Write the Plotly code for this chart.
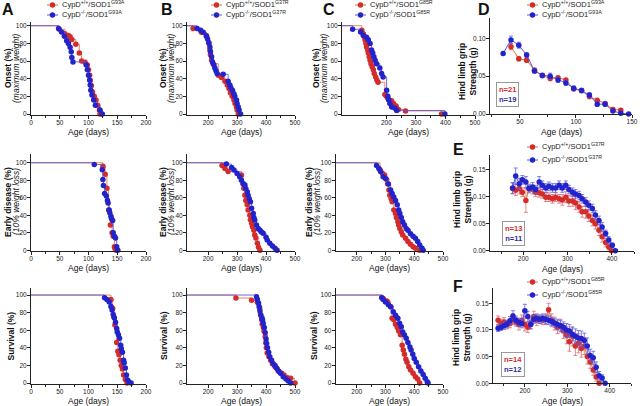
import plotly.graph_objects as go

W, H = 640, 406
RED = "#d42b2b"; BLUE = "#2323cc"
RED_LINE = "#e8703a"; BLUE_LINE = "#5555dd"
RED_ERR = "#e06a6a"; BLUE_ERR = "#5f5fe0"
FONT = "Arial, Liberation Sans, sans-serif"

# ---------------- DATA ----------------
# A: SOD1 G93A (Kaplan-Meier, age in days / percent)
a1_red_age = [0, 49, 59, 65, 68, 71, 78, 84, 88, 94, 98, 100, 102, 103, 105, 107, 110, 113, 116, 119, 120]
a1_red_pct = [100, 96, 91, 89, 87.5, 84.5, 79, 69, 60, 58.5, 55.5, 50, 44, 38, 32, 25, 20, 16, 10, 4.5, 0]
a1_blue_age = [0, 48, 53, 58, 62, 65, 68, 70, 71, 73, 96, 98, 100, 102, 103, 104, 106, 109, 112, 120, 124]
a1_blue_pct = [100, 97, 93, 88, 83, 80, 75.5, 70.5, 64, 59, 55.5, 50, 44, 38.5, 33, 27, 21.5, 16, 10, 4.5, 0]

a2_red_age = [0, 125, 129, 132, 135, 138, 141, 143, 145, 146, 148]
a2_red_pct = [100, 96, 87, 71, 46, 29, 20, 16, 4, 2, 0]
a2_blue_age = [0, 110, 124, 125, 126, 128, 131, 133, 134, 136, 137, 139, 140, 142, 143, 145, 147, 149, 151]
a2_blue_pct = [100, 98, 92, 81, 74, 65, 62, 57, 54, 46, 43, 39, 36, 34, 20, 16, 14, 4, 0]

a3_red_age = [0, 139, 142, 144, 146, 149, 151, 153, 155, 157, 159, 161, 164, 167]
a3_red_pct = [100, 95, 85, 75, 66, 46, 36, 32, 26, 20, 16, 9, 4, 0]
a3_blue_age = [0, 128, 132, 136, 139, 141, 143, 145, 147, 149, 150, 152, 154, 156, 157, 159, 161, 162, 164, 166, 168, 170, 174]
a3_blue_pct = [100, 97, 95, 92, 87, 83, 78, 74, 69, 62, 58, 55, 51, 43, 39, 35, 26, 23, 17, 9, 3.5, 1.5, 0]

# B: SOD1 G37R
b1_red_age = [127, 148, 177, 194, 203, 206, 208, 212, 217, 235, 246, 258, 266, 272, 277, 283, 289, 293, 298, 300, 304]
b1_red_pct = [100, 97, 92.5, 89, 80, 72.5, 67, 61, 57, 44, 41.5, 37, 33, 29, 24, 20, 16, 12, 8, 4.5, 0]
b1_blue_age = [127, 162, 174, 183, 194, 198, 202, 206, 208, 212, 215, 220, 223, 227, 231, 252, 269, 275, 278, 284, 289, 292, 298, 300, 304, 307, 312]
b1_blue_pct = [100, 97, 95, 92.5, 88, 85, 81, 76, 70.6, 65, 59, 55.5, 52, 49, 46, 45, 37, 33, 30, 27, 23, 20, 16, 12, 8, 4.5, 0]

b2_red_age = [127, 248, 258, 269, 315, 321, 323, 327, 330, 335, 338, 344, 346, 350, 353, 358, 361, 365, 370, 374, 379]
b2_red_pct = [100, 97, 93.5, 90, 86, 76, 71, 63, 57, 52, 46, 40, 35, 31, 27, 23, 17.5, 14, 8, 3.4, 0]
b2_blue_age = [127, 263, 281, 289, 300, 309, 315, 321, 327, 330, 335, 338, 342, 346, 350, 356, 358, 361, 367, 373, 379, 384, 390, 400, 404, 413, 422, 431, 438]
b2_blue_pct = [100, 98.5, 94.7, 91.6, 87.8, 84, 80, 76, 74.5, 70.7, 67, 63, 59, 55.5, 48, 42, 37.6, 34.6, 29, 25, 23, 21, 19.4, 15, 11.8, 8, 5, 2.3, 0]

b3_red_age = [127, 296, 350, 370, 378, 381, 385, 387, 391, 393, 397, 399, 401, 404, 410, 416, 422, 431, 439, 445, 454, 462, 474, 485, 500]
b3_red_pct = [100, 96.6, 94, 91.7, 85, 78, 72, 66.7, 63, 59, 53, 45.8, 40, 34, 30, 26, 22, 18.6, 16, 13, 11, 9, 6, 5.3, 0]
b3_blue_age = [127, 367, 370, 374, 376, 379, 382, 386, 388, 390, 394, 397, 400, 402, 405, 409, 413, 419, 425, 431, 436, 442, 450, 459, 469, 477, 485]
b3_blue_pct = [100, 98, 95, 91, 87, 82, 77, 74, 71.6, 68, 63, 57, 50, 45, 40, 35, 30, 26, 22, 20, 17, 14, 11, 7, 4.5, 2.3, 0]

# C: SOD1 G85R
c1_red_age = [50, 117, 122, 126, 128, 131, 133, 137, 139, 142, 145, 148, 152, 156, 159, 164, 168, 172, 195, 200, 205, 218, 224, 233, 241, 265, 387]
c1_red_pct = [100, 95, 91, 87.5, 84, 80, 76, 72.5, 69, 65, 61, 57, 53.6, 50, 46, 42, 38.5, 36, 22, 20, 18, 15, 12, 9, 5, 3.5, 0]
c1_blue_age = [50, 86, 113, 122, 133, 139, 145, 150, 154, 158, 162, 167, 178, 184, 189, 201, 205, 208, 212, 218, 229, 235, 398]
c1_blue_pct = [100, 96, 93, 89, 87, 84, 80, 72.5, 69, 65, 61, 57, 52, 46, 42, 27, 20, 16, 12, 8, 6.5, 4, 0]

c2_red_age = [127, 281, 289, 297, 304, 308, 312, 315, 320, 323, 329, 335, 338, 343, 346, 350, 355, 360, 370, 378, 387, 396, 404, 419]
c2_red_pct = [100, 92, 88, 86, 81, 76, 69, 63, 59, 55.5, 46, 42, 37.6, 32.7, 29, 25, 21, 17.5, 13.7, 10, 7, 4, 2.3, 0]
c2_blue_age = [127, 269, 277, 283, 292, 300, 310, 318, 323, 329, 335, 341, 346, 350, 355, 360, 366, 372, 378, 387, 396, 404, 412, 419, 427, 431]
c2_blue_pct = [100, 97, 93.5, 90, 84, 82, 75.7, 69, 65, 61, 57, 52, 46, 42, 37.6, 32.7, 29, 25, 23, 19, 16, 13.7, 10, 6, 2.3, 0]

c3_red_age = [127, 292, 306, 318, 323, 329, 335, 341, 346, 352, 358, 362, 366, 371, 375, 381, 387, 396, 404, 412, 419]
c3_red_pct = [100, 96, 93, 86.7, 73.5, 72, 66.7, 63, 59, 55, 43, 37.5, 32.6, 27, 23.5, 18.6, 14.8, 11, 7, 4.5, 0]
c3_blue_age = [127, 287, 292, 300, 310, 318, 327, 335, 343, 349, 355, 360, 366, 372, 378, 385, 389, 395, 400, 407, 415, 423, 431, 438, 445, 448]
c3_blue_pct = [100, 97, 95, 92, 89, 86.7, 81, 77, 73.5, 68, 64, 58, 54.5, 51, 46, 41, 37.5, 32.6, 28, 23.5, 18.6, 13.6, 9.8, 5.3, 1.5, 0]

# D: hind limb grip strength, G93A
d_blue_age = [35, 42, 49, 56, 63, 70, 77, 84, 91, 98, 105, 112, 119, 126, 133, 140, 147]
d_blue = [0.080, 0.098, 0.091, 0.078, 0.057, 0.051, 0.050, 0.045, 0.041, 0.034, 0.031, 0.025, 0.013, 0.013, 0.004, 0.001, 0.000]
d_blue_err = [0.002, 0.005, 0.004, 0.003, 0.003, 0.003, 0.004, 0.003, 0.003, 0.003, 0.003, 0.003, 0.003, 0.003, 0.002, 0.002, 0.001]
d_red_age = [42, 49, 56, 63, 70, 77, 84, 91, 98, 105, 112, 119, 126, 133, 140]
d_red = [0.089, 0.073, 0.071, 0.058, 0.051, 0.047, 0.048, 0.045, 0.033, 0.031, 0.023, 0.018, 0.014, 0.006, 0.005]
d_red_err = [0.004, 0.003, 0.003, 0.003, 0.002, 0.003, 0.002, 0.002, 0.002, 0.002, 0.003, 0.003, 0.002, 0.002, 0.002]

# E: grip strength, G37R
e_blue_age = [176, 183, 191, 198, 206, 213, 221, 228, 236, 243, 251, 258, 266, 273, 281, 288, 296, 303, 311, 318, 326, 333, 341, 348, 356, 363, 371, 378, 386, 393, 401, 408]
e_blue = [0.116, 0.138, 0.124, 0.131, 0.127, 0.115, 0.118, 0.113, 0.127, 0.121, 0.116, 0.119, 0.116, 0.116, 0.121, 0.116, 0.121, 0.113, 0.108, 0.105, 0.102, 0.096, 0.090, 0.084, 0.078, 0.066, 0.056, 0.044, 0.032, 0.020, 0.010, 0.000]
e_blue_err = [0.010, 0.015, 0.010, 0.008, 0.010, 0.008, 0.008, 0.008, 0.010, 0.008, 0.008, 0.008, 0.008, 0.008, 0.008, 0.008, 0.008, 0.008, 0.008, 0.008, 0.008, 0.008, 0.008, 0.008, 0.008, 0.008, 0.008, 0.008, 0.006, 0.006, 0.004, 0.002]
e_red_age = [176, 183, 191, 198, 206, 213, 221, 228, 236, 243, 251, 258, 266, 273, 281, 288, 296, 303, 311, 318, 326, 333, 341, 348, 356, 363, 371, 378, 386, 393, 399]
e_red = [0.115, 0.112, 0.115, 0.108, 0.093, 0.115, 0.113, 0.108, 0.107, 0.105, 0.099, 0.099, 0.096, 0.099, 0.096, 0.094, 0.099, 0.092, 0.092, 0.088, 0.081, 0.072, 0.072, 0.064, 0.056, 0.050, 0.038, 0.026, 0.015, 0.007, 0.000]
e_red_err = [0.010, 0.010, 0.010, 0.008, 0.022, 0.006, 0.008, 0.008, 0.008, 0.008, 0.008, 0.008, 0.008, 0.008, 0.008, 0.010, 0.010, 0.010, 0.010, 0.012, 0.010, 0.010, 0.012, 0.010, 0.010, 0.010, 0.010, 0.010, 0.008, 0.006, 0.003]

# F: grip strength, G85R
f_blue_age = [137, 144, 151, 158, 165, 172, 179, 186, 193, 200, 207, 214, 221, 228, 235, 242, 249, 256, 263, 270, 277, 284, 291, 298, 305, 312, 319, 326, 333, 340, 347, 354, 361, 368, 375, 382, 389]
f_blue = [0.103, 0.105, 0.108, 0.111, 0.117, 0.126, 0.118, 0.114, 0.112, 0.136, 0.125, 0.110, 0.120, 0.122, 0.120, 0.122, 0.120, 0.118, 0.116, 0.113, 0.110, 0.108, 0.105, 0.100, 0.098, 0.092, 0.088, 0.085, 0.084, 0.080, 0.070, 0.052, 0.048, 0.030, 0.014, 0.010, 0.000]
f_blue_err = [0.006, 0.006, 0.007, 0.007, 0.008, 0.010, 0.008, 0.008, 0.008, 0.012, 0.010, 0.008, 0.008, 0.008, 0.008, 0.008, 0.008, 0.008, 0.008, 0.008, 0.010, 0.010, 0.010, 0.012, 0.012, 0.012, 0.014, 0.014, 0.014, 0.014, 0.015, 0.012, 0.012, 0.010, 0.008, 0.006, 0.002]
f_red_age = [137, 144, 151, 158, 165, 172, 179, 186, 193, 200, 207, 214, 221, 228, 235, 242, 249, 256, 263, 270, 277, 284, 291, 298, 305, 312, 319, 326, 333, 340, 347, 354, 361, 368, 375]
f_red = [0.118, 0.112, 0.115, 0.110, 0.112, 0.120, 0.115, 0.110, 0.118, 0.110, 0.105, 0.112, 0.125, 0.118, 0.120, 0.118, 0.120, 0.138, 0.118, 0.112, 0.105, 0.108, 0.098, 0.090, 0.078, 0.088, 0.070, 0.075, 0.065, 0.070, 0.050, 0.040, 0.025, 0.012, 0.000]
f_red_err = [0.008, 0.008, 0.008, 0.008, 0.008, 0.010, 0.008, 0.010, 0.010, 0.012, 0.010, 0.010, 0.010, 0.010, 0.008, 0.008, 0.010, 0.012, 0.012, 0.012, 0.012, 0.012, 0.014, 0.016, 0.018, 0.018, 0.018, 0.018, 0.016, 0.016, 0.014, 0.012, 0.010, 0.008, 0.002]

genotypes = ["G93A", "G37R", "G85R"]
n_labels = [("n=21", "n=19"), ("n=13", "n=11"), ("n=14", "n=12")]
km_bold = ["Onset (%)", "Early disease (%)", "Survival (%)"]
km_italic = ["(maximum weight)", "(10% weight loss)", None]
grip_title = "<b>Hind limb grip<br>Strength (g)</b>"
x_title = "Age (days)"
panel_letters = ["A", "B", "C", "D", "E", "F"]

# ---------------- LAYOUT GEOMETRY (pixels) ----------------
geom = {
    "A1": (31, 146, 22.2, 114.9, [0, 200], [-1, 104]),
    "B1": (187, 295, 22.2, 114.9, [127, 500], [-1, 104]),
    "C1": (342, 475, 22.2, 114.9, [50, 500], [-1, 104]),
    "D":  (490, 632, 18.3, 114, [23.3, 150], [0, 0.1266]),
    "A2": (31, 146, 154, 251.2, [0, 200], [-1, 110]),
    "B2": (187, 295, 154, 251.2, [127, 500], [-1, 110]),
    "C2": (335.7, 443, 154, 251.2, [127, 500], [-1, 110]),
    "E":  (490, 634, 155, 250.7, [125, 450], [0, 0.177]),
    "A3": (31, 146, 288, 383.9, [0, 200], [-1, 108]),
    "B3": (187, 295, 288, 383.9, [127, 500], [-1, 108]),
    "C3": (335.7, 443, 288, 383.9, [127, 500], [-1, 108]),
    "F":  (493, 631, 288.3, 383.3, [125, 450], [0, 0.178]),
}
order = ["A1", "B1", "C1", "D", "A2", "B2", "C2", "E", "A3", "B3", "C3", "F"]
axid = {k: i + 1 for i, k in enumerate(order)}
xtitle_y = {"1": 132, "2": 268, "3": 401, "D": 132, "E": 268.5, "F": 401}

fig = go.Figure()
layout = {}
tickfont = dict(family=FONT, size=6.5, color="#222")
for k in order:
    i = axid[k]
    xl, xr, yt, yb, xrg, yrg = geom[k]
    sfx = "" if i == 1 else str(i)
    common = dict(showline=True, linecolor="#222", linewidth=1, ticks="outside", ticklen=3, tickwidth=1,
                  tickcolor="#222", showgrid=False, zeroline=False, tickfont=tickfont, fixedrange=True)
    xa = dict(domain=[xl / W, xr / W], range=xrg, anchor="y" + sfx, ticklabelstandoff=-2, **common)
    ya = dict(domain=[1 - yb / H, 1 - yt / H], range=yrg, anchor="x" + sfx, ticklabelstandoff=-1, **common)
    mn = dict(ticklen=2, tickcolor="#222", ticks="outside")
    if k.startswith("A"):
        xa.update(tickvals=[0, 50, 100, 150, 200], minor=dict(tickvals=[25, 75, 125, 175], **mn))
    elif k[0] in "BC":
        xa.update(tickvals=[200, 300, 400, 500], minor=dict(tickvals=[250, 350, 450], **mn))
    elif k == "D":
        xa.update(tickvals=[50, 100, 150], minor=dict(tickvals=[25, 75, 125], **mn))
    else:
        xa.update(tickvals=[200, 300, 400], minor=dict(tickvals=[150, 250, 350, 450], **mn))
    if k in ("D", "E", "F"):
        tv = [0, 0.05, 0.10] if k == "D" else [0, 0.05, 0.10, 0.15]
        ya.update(tickvals=tv, ticktext=["%.2f" % v for v in tv])
    else:
        ya.update(tickvals=[0, 20, 40, 60, 80, 100])
    layout["xaxis" + sfx] = xa
    layout["yaxis" + sfx] = ya


def axrefs(k):
    i = axid[k]
    s = "" if i == 1 else str(i)
    return "x" + s, "y" + s


def km(k, ages, pcts, line_color, marker_color):
    xr, yr = axrefs(k)
    fig.add_trace(go.Scatter(x=ages, y=pcts, mode="lines", line=dict(color=line_color, width=1, shape="hv"),
                             opacity=0.85, xaxis=xr, yaxis=yr, showlegend=False, hoverinfo="skip", cliponaxis=False))
    fig.add_trace(go.Scatter(x=ages[1:], y=pcts[1:], mode="markers", marker=dict(color=marker_color, size=5.5),
                             xaxis=xr, yaxis=yr, showlegend=False, cliponaxis=False))


def grip(k, ages, vals, errs, line_color, marker_color, err_color):
    xr, yr = axrefs(k)
    fig.add_trace(go.Scatter(x=ages, y=vals, mode="lines+markers",
                             line=dict(color=line_color, width=1),
                             marker=dict(color=marker_color, size=5.5),
                             error_y=dict(type="data", array=errs, color=err_color, thickness=0.8, width=2),
                             xaxis=xr, yaxis=yr, showlegend=False, cliponaxis=False))


km("A1", a1_red_age, a1_red_pct, RED_LINE, RED); km("A1", a1_blue_age, a1_blue_pct, BLUE_LINE, BLUE)
km("A2", a2_red_age, a2_red_pct, RED_LINE, RED); km("A2", a2_blue_age, a2_blue_pct, BLUE_LINE, BLUE)
km("A3", a3_red_age, a3_red_pct, RED_LINE, RED); km("A3", a3_blue_age, a3_blue_pct, BLUE_LINE, BLUE)
km("B1", b1_red_age, b1_red_pct, RED_LINE, RED); km("B1", b1_blue_age, b1_blue_pct, BLUE_LINE, BLUE)
km("B2", b2_red_age, b2_red_pct, RED_LINE, RED); km("B2", b2_blue_age, b2_blue_pct, BLUE_LINE, BLUE)
km("B3", b3_red_age, b3_red_pct, RED_LINE, RED); km("B3", b3_blue_age, b3_blue_pct, BLUE_LINE, BLUE)
km("C1", c1_red_age, c1_red_pct, RED_LINE, RED); km("C1", c1_blue_age, c1_blue_pct, BLUE_LINE, BLUE)
km("C2", c2_red_age, c2_red_pct, RED_LINE, RED); km("C2", c2_blue_age, c2_blue_pct, BLUE_LINE, BLUE)
km("C3", c3_red_age, c3_red_pct, RED_LINE, RED); km("C3", c3_blue_age, c3_blue_pct, BLUE_LINE, BLUE)

grip("D", d_red_age, d_red, d_red_err, RED_LINE, RED, RED_ERR)
grip("D", d_blue_age, d_blue, d_blue_err, BLUE_LINE, BLUE, BLUE_ERR)
grip("E", e_red_age, e_red, e_red_err, RED_LINE, RED, RED_ERR)
grip("E", e_blue_age, e_blue, e_blue_err, BLUE_LINE, BLUE, BLUE_ERR)
grip("F", f_red_age, f_red, f_red_err, RED_LINE, RED, RED_ERR)
grip("F", f_blue_age, f_blue, f_blue_err, BLUE_LINE, BLUE, BLUE_ERR)

ann = []
shapes = []


def note(text, x, y, size, angle=0, xanchor="center", color="#111", **kw):
    d = dict(text=text, x=x / W, y=1 - y / H, xref="paper", yref="paper", xanchor=xanchor, yanchor="middle",
             showarrow=False, textangle=angle, font=dict(family=FONT, size=size, color=color))
    d.update(kw)
    ann.append(d)


# ---------------- LEGENDS (glyph + text) ----------------
legend_spots = [(47, 58, 5, 10, 0), (211, 222, 5, 10, 1), (355, 366, 5, 10, 2),
                (527, 538, 5, 10, 0), (527, 538, 147, 13, 1), (527, 538, 282, 13, 2)]
for x0, x1, y0, dy, gi in legend_spots:
    g = genotypes[gi]
    for j, (name, lc, mc) in enumerate([("CypD<sup>+/+</sup>/SOD1<sup>%s</sup>" % g, RED_LINE, RED),
                                        ("CypD<sup>-/-</sup>/SOD1<sup>%s</sup>" % g, BLUE_LINE, BLUE)]):
        yy = y0 + j * dy
        shapes.append(dict(type="line", xref="paper", yref="paper", x0=x0 / W, x1=x1 / W,
                           y0=1 - yy / H, y1=1 - yy / H, line=dict(color=lc, width=1)))
        xc = (x0 + x1) / 2
        shapes.append(dict(type="circle", xref="paper", yref="paper", x0=(xc - 2.7) / W, x1=(xc + 2.7) / W,
                           y0=1 - (yy + 2.7) / H, y1=1 - (yy - 2.7) / H, fillcolor=mc, line=dict(width=0)))
        note(name, x1 + 2, yy - 1, 7.5, xanchor="left", color="#222")

# panel letters
for letter, (x, y) in zip(panel_letters, [(8, 10), (167, 10), (329, 10), (484, 10), (458, 149), (458, 286)]):
    note("<b>%s</b>" % letter, x, y, 16)
# KM y titles: (bold line x, italic line x, centre y)
ytitle_pos = {"A1": (8, 16, 68), "B1": (163, 171, 68), "C1": (316, 324, 68),
              "A2": (8, 16, 202), "B2": (163, 171, 202), "C2": (309, 317, 202),
              "A3": (10.5, None, 336), "B3": (164, None, 336), "C3": (314, None, 336)}
for k, (xb, xi, y) in ytitle_pos.items():
    r = int(k[1]) - 1
    note("<b>%s</b>" % km_bold[r], xb, y, 8.5, angle=-90)
    if xi is not None:
        note("<i>%s</i>" % km_italic[r], xi, y, 8.5, angle=-90)
for k, (x, y) in {"D": (467, 72), "E": (462, 200), "F": (461, 338)}.items():
    note(grip_title, x, y, 8.5, angle=-90)
# x titles
for k in order:
    xl, xr, yt, yb, _, _ = geom[k]
    ty = xtitle_y[k[1]] if k[0] in "ABC" else xtitle_y[k]
    note(x_title, (xl + xr) / 2, ty, 8.5)
# n boxes
for (x, y), (nr, nb) in zip([(507, 94), (513, 233), (513, 364)], n_labels):
    note("<b><span style='color:%s'>%s</span><br><span style='color:%s'>%s</span></b>" % (RED, nr, "#2a2a9a", nb),
         x, y, 7.5, bordercolor="#999", borderwidth=1, borderpad=2, bgcolor="white")

layout.update(width=W, height=H, margin=dict(l=0, r=0, t=0, b=0, autoexpand=False), paper_bgcolor="white",
              plot_bgcolor="white", annotations=ann, shapes=shapes, font=dict(family=FONT), showlegend=False)
fig.update_layout(**layout)
fig.write_html("out.html", config={"displayModeBar": False},
               post_script="document.body.style.margin='0';document.body.style.padding='0';")
